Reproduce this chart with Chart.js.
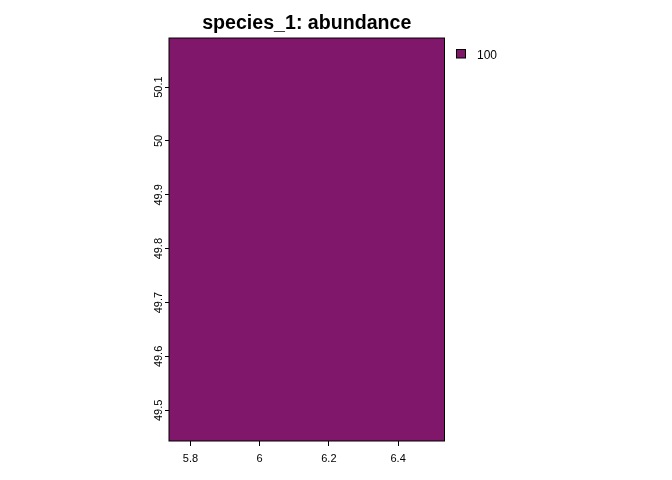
<!DOCTYPE html>
<html>
<head>
<meta charset="utf-8">
<style>
  html, body { margin: 0; padding: 0; background: #fff; }
  #wrap { width: 672px; height: 480px; }
</style>
<script src="https://cdn.jsdelivr.net/npm/chart.js@4"></script>
</head>
<body>
<div id="wrap"><canvas id="myChart" width="672" height="480"></canvas></div>
<script>
const chartTitle = 'species_1: abundance';
const xTicks = [5.8, 6, 6.2, 6.4];
const yTicks = [49.5, 49.6, 49.7, 49.8, 49.9, 50, 50.1];
// the raster has one value, so it is a single filled cell over the whole extent
const cellLon = [5.738, 6.534];
const cellLat = [50.191, 50.191];
const latMin = 49.443;
const legendValues = [100];
const cellColor = '#80176B';

// box around the map and the legend to the right of it
const mapFrame = {
  id: 'mapFrame',
  afterDraw(chart) {
    const { ctx, chartArea: a } = chart;
    ctx.save();
    ctx.strokeStyle = '#000';
    ctx.lineWidth = 1;
    ctx.strokeRect(a.left, a.top, a.right - a.left, a.bottom - a.top);
    legendValues.forEach((v, i) => {
      const y = 49.5 + i * 20;
      ctx.fillStyle = cellColor;
      ctx.fillRect(456.5, y, 9, 8.5);
      ctx.strokeRect(456.5, y, 9, 8.5);
      ctx.fillStyle = '#000';
      ctx.font = '12px "Liberation Sans"';
      ctx.textBaseline = 'middle';
      ctx.fillText(String(v), 477, y + 6);
    });
    ctx.restore();
  }
};

const ctx = document.getElementById('myChart').getContext('2d');
new Chart(ctx, {
  type: 'line',
  data: {
    datasets: [{
      data: cellLon.map((lon, i) => ({ x: lon, y: cellLat[i] })),
      fill: 'start',
      backgroundColor: cellColor,
      borderWidth: 0,
      pointRadius: 0
    }]
  },
  options: {
    responsive: false,
    animation: false,
    layout: { padding: { left: 0, right: 227.5, top: 0, bottom: 0 } },
    plugins: {
      legend: { display: false },
      tooltip: { enabled: false },
      title: {
        display: true,
        text: chartTitle,
        fullSize: false,
        color: '#000',
        font: { family: '"Liberation Sans"', size: 19.6, weight: 'bold' },
        padding: { top: 11.5, bottom: 3 }
      }
    },
    scales: {
      x: {
        type: 'linear',
        min: cellLon[0],
        max: cellLon[1],
        afterBuildTicks: s => { s.ticks = xTicks.map(v => ({ value: v })); },
        afterFit: s => { s.height = 39; },
        border: { display: false },
        grid: { drawOnChartArea: false, drawTicks: true, tickLength: 5, color: '#000' },
        ticks: {
          color: '#000',
          padding: 6,
          maxRotation: 0,
          autoSkip: false,
          font: { family: '"Liberation Sans"', size: 11 },
          callback: v => String(v)
        }
      },
      y: {
        type: 'linear',
        min: latMin,
        max: cellLat[0],
        afterBuildTicks: s => { s.ticks = yTicks.map(v => ({ value: v })); },
        afterFit: s => { s.width = 169; },
        border: { display: false },
        grid: { drawOnChartArea: false, drawTicks: true, tickLength: 4, color: '#000' },
        ticks: {
          color: '#000',
          padding: -5,
          minRotation: 90,
          maxRotation: 90,
          autoSkip: false,
          crossAlign: 'center',
          font: { family: '"Liberation Sans"', size: 11 },
          callback: v => String(v)
        }
      }
    }
  },
  plugins: [mapFrame]
});
</script>
</body>
</html>
